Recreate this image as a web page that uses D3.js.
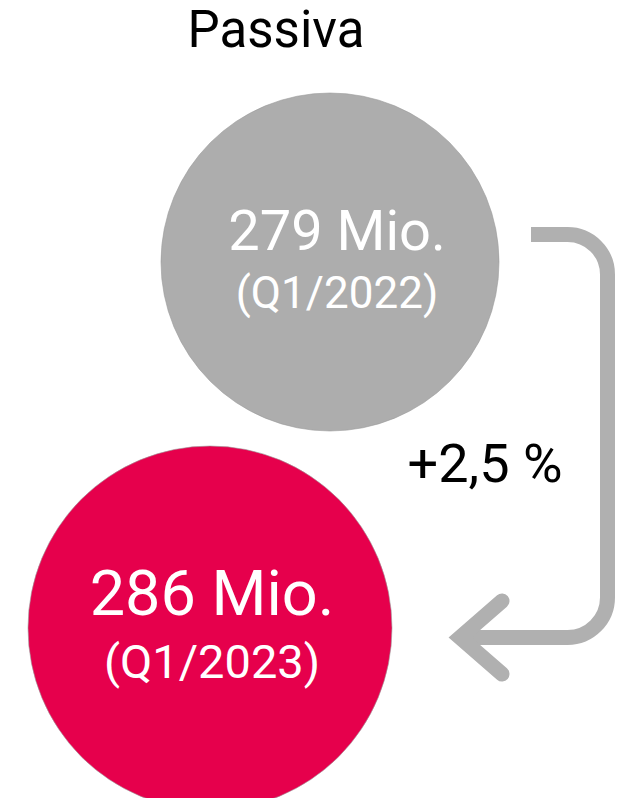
<!DOCTYPE html>
<html>
<head>
<meta charset="utf-8">
<script src="https://cdn.jsdelivr.net/npm/d3@7"></script>
<style>
  html, body { margin: 0; padding: 0; background: #ffffff; }
  svg { display: block; }
  text { font-family: Roboto, "Liberation Sans", sans-serif; }
</style>
</head>
<body>
<div id="chart"></div>
<script>
// ---- data ----
const title = "Passiva";
const periods = ["Q1/2022", "Q1/2023"];
const values = [279, 286];
const valueLabels = ["279 Mio.", "286 Mio."];
const changeLabel = "+2,5 %";

// ---- layout ----
const W = 623, H = 798;
const colors = ["#adadad", "#e6004c"];
const arrowColor = "#b0b0b0";

const svg = d3.select("#chart").append("svg")
  .attr("width", W).attr("height", H);

const xPos = d3.scalePoint().domain(periods).range([330, 210]);
const yPos = d3.scalePoint().domain(periods).range([262, 628]);
const rScale = d3.scaleLinear().domain(d3.extent(values)).range([169, 182]);
const fsMain = d3.scaleLinear().domain(d3.extent(values)).range([56, 63]);
const fsSub = d3.scaleLinear().domain(d3.extent(values)).range([44, 47]);

const data = periods.map((p, i) => ({ period: p, value: values[i], label: valueLabels[i], color: colors[i] }));

// title
svg.append("text")
  .attr("x", 276).attr("y", 47)
  .attr("text-anchor", "middle")
  .attr("font-size", 51)
  .attr("fill", "#000")
  .text(title);

// arrow (drawn before circles)
const ax = 607.5, yTop = 234.5, yBot = 637.5, rr = 40;
const p = d3.path();
p.moveTo(531, yTop);
p.lineTo(ax - rr, yTop);
p.arcTo(ax, yTop, ax, yTop + rr, rr);
p.lineTo(ax, yBot - rr);
p.arcTo(ax, yBot, ax - rr, yBot, rr);
p.lineTo(462, yBot);
svg.append("path")
  .attr("d", p.toString())
  .attr("fill", "none")
  .attr("stroke", arrowColor)
  .attr("stroke-width", 15);

const head = d3.path();
head.moveTo(502, 601);
head.lineTo(460, yBot);
head.lineTo(502, 674);
svg.append("path")
  .attr("d", head.toString())
  .attr("fill", "none")
  .attr("stroke", arrowColor)
  .attr("stroke-width", 15)
  .attr("stroke-linecap", "round")
  .attr("stroke-linejoin", "miter")
  .attr("stroke-miterlimit", 10);

// circles
const g = svg.selectAll("g.bubble").data(data).enter().append("g")
  .attr("class", "bubble")
  .attr("transform", d => `translate(${xPos(d.period)},${yPos(d.period)})`);

g.append("circle")
  .attr("r", d => rScale(d.value))
  .attr("fill", d => d.color)
  .attr("stroke", "#9a9a9a")
  .attr("stroke-width", 0.6);

g.append("text")
  .attr("x", (d, i) => i === 0 ? 7 : 2)
  .attr("y", d => -rScale(d.value) * 0.07)
  .attr("text-anchor", "middle")
  .attr("font-size", d => fsMain(d.value))
  .attr("fill", "#fff")
  .text(d => d.label);

g.append("text")
  .attr("x", (d, i) => i === 0 ? 7 : 2)
  .attr("y", d => rScale(d.value) * 0.272)
  .attr("text-anchor", "middle")
  .attr("font-size", d => fsSub(d.value))
  .attr("fill", "#fff")
  .text(d => `(${d.period})`);

// change label
svg.append("text")
  .attr("x", 485).attr("y", 482)
  .attr("text-anchor", "middle")
  .attr("font-size", 54)
  .attr("fill", "#000")
  .text(changeLabel);
</script>
</body>
</html>
